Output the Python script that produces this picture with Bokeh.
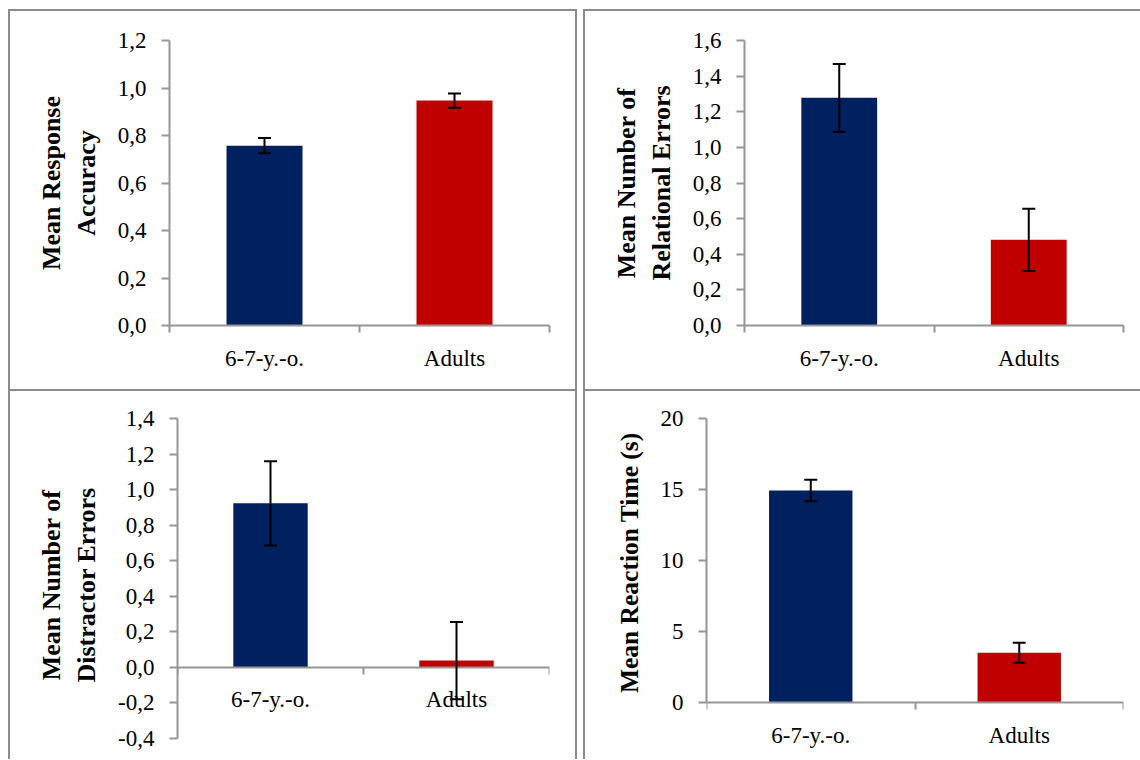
from bokeh.plotting import figure
from bokeh.models import FixedTicker, ColumnDataSource, Whisker, TeeHead, Range1d
from bokeh.core.properties import value
from bokeh.layouts import row, column
from bokeh.embed import file_html
from bokeh.resources import INLINE

# ---------------- data ----------------
groups = ["6-7-y.-o.", "Adults"]
bar_colors = ["#002060", "#C00000"]

acc_mean = [0.757, 0.947]
acc_err = [0.032, 0.030]
acc_ticks = [0.0, 0.2, 0.4, 0.6, 0.8, 1.0, 1.2]
acc_labels = ["0,0", "0,2", "0,4", "0,6", "0,8", "1,0", "1,2"]

rel_mean = [1.278, 0.481]
rel_err = [0.190, 0.175]
rel_ticks = [0.0, 0.2, 0.4, 0.6, 0.8, 1.0, 1.2, 1.4, 1.6]
rel_labels = ["0,0", "0,2", "0,4", "0,6", "0,8", "1,0", "1,2", "1,4", "1,6"]

dis_mean = [0.922, 0.036]
dis_err = [0.237, 0.218]
dis_ticks = [-0.4, -0.2, 0.0, 0.2, 0.4, 0.6, 0.8, 1.0, 1.2, 1.4]
dis_labels = ["-0,4", "-0,2", "0,0", "0,2", "0,4", "0,6", "0,8", "1,0", "1,2", "1,4"]

rt_mean = [14.93, 3.52]
rt_err = [0.76, 0.70]
rt_ticks = [0, 5, 10, 15, 20]
rt_labels = ["0", "5", "10", "15", "20"]

FONT = "Liberation Serif"
GREY = "#969696"
BORDER = "#8c8c8c"
NBSP = "\u00a0"


def panel(title, means, errs, yticks, ylabels, width, height, mins, sides,
          title_size="26px", zero_axis=False, y_start=None):
    left, right, top, bottom = mins
    start = yticks[0] if y_start is None else y_start
    p = figure(width=width, height=height, output_backend="svg", toolbar_location=None,
               x_range=Range1d(0, len(groups)), y_range=Range1d(start, yticks[-1]),
               min_border_left=left, min_border_right=right,
               min_border_top=top, min_border_bottom=bottom)
    p.outline_line_color = None
    p.grid.visible = False
    p.border_fill_alpha = 0
    p.background_fill_alpha = 0

    centers = [i + 0.5 for i in range(len(groups))]
    bounds = list(range(len(groups) + 1))
    src = ColumnDataSource(dict(
        x=centers, top=means, color=bar_colors, base=[0] * len(groups), label=groups,
        upper=[m + e for m, e in zip(means, errs)],
        lower=[m - e for m, e in zip(means, errs)],
    ))
    p.vbar(x="x", top="top", bottom=0, width=0.4, fill_color="color", line_color=None, source=src)
    w = Whisker(source=src, base="x", upper="upper", lower="lower", level="overlay",
                line_color="black", line_width=2,
                upper_head=TeeHead(size=13, line_color="black", line_width=2),
                lower_head=TeeHead(size=13, line_color="black", line_width=2))
    p.add_layout(w)

    # x axis (Excel style: ticks at category boundaries)
    xa = p.xaxis[0]
    xa.major_tick_out = 0
    xa.major_tick_in = 0
    xa.minor_tick_out = 7
    xa.minor_tick_in = 0
    xa.minor_tick_line_color = GREY
    xa.minor_tick_line_width = 2
    xa.axis_line_color = GREY
    xa.axis_line_width = 2
    xa.major_label_text_font = FONT
    xa.major_label_text_font_size = "23px"
    xa.major_label_text_color = "black"
    if zero_axis:
        # axis crossing at y = 0; category names drawn as text just below it
        xa.fixed_location = 0
        xa.ticker = FixedTicker(ticks=[], minor_ticks=bounds)
        xa.major_label_standoff = 0
        p.text(x="x", y="base", text="label", source=src, text_font=value(FONT),
               text_font_size="23px", text_color="black", text_align="center",
               text_baseline="top", y_offset=20)
    else:
        xa.ticker = FixedTicker(ticks=centers, minor_ticks=bounds)
        xa.major_label_overrides = {c: g for c, g in zip(centers, groups)}
        xa.major_label_standoff = 13

    ya = p.yaxis[0]
    ya.ticker = FixedTicker(ticks=yticks, minor_ticks=[])
    ya.bounds = (yticks[0], yticks[-1])
    ya.major_label_overrides = {t: l for t, l in zip(yticks, ylabels)}
    ya.major_tick_out = 8
    ya.major_tick_in = 0
    ya.major_tick_line_color = GREY
    ya.major_tick_line_width = 2
    ya.axis_line_color = GREY
    ya.axis_line_width = 2
    ya.major_label_text_font = FONT
    ya.major_label_text_font_size = "23px"
    ya.major_label_text_color = "black"
    ya.major_label_standoff = 15
    ya.axis_label = title
    ya.axis_label_text_font = FONT
    ya.axis_label_text_font_style = "bold"
    ya.axis_label_text_font_size = title_size
    ya.axis_label_text_color = "black"
    ya.axis_label_standoff = 14

    shadows = []
    if "l" in sides:
        shadows.append("inset 2px 0 0 0 " + BORDER)
    if "t" in sides:
        shadows.append("inset 0 2px 0 0 " + BORDER)
    if "r" in sides:
        shadows.append("inset -2px 0 0 0 " + BORDER)
    if "b" in sides:
        shadows.append("inset 0 -2px 0 0 " + BORDER)
    p.styles = {"box-shadow": ", ".join(shadows), "background-color": "white"}
    return p


tl = panel("Mean Response\nAccuracy", acc_mean, acc_err, acc_ticks, acc_labels,
           569, 380, (161, 28, 31, 64), "ltr")
tr = panel("Mean Number of\nRelational Errors", rel_mean, rel_err, rel_ticks, rel_labels,
           557, 380, (161, 17, 31, 64), "lt")
bl = panel("Mean Number of\nDistractor Errors", dis_mean, dis_err, dis_ticks, dis_labels,
           569, 370, (169, 28, 29, 8), "ltr", zero_axis=True, y_start=-0.476)
br = panel(NBSP * 7 + "Mean Reaction Time (s)", rt_mean, rt_err, rt_ticks, rt_labels,
           557, 370, (123, 17, 29, 8), "lt", title_size="25.5px",
           zero_axis=True, y_start=-3.43)

layout = column(row(tl, tr, spacing=6), row(bl, br, spacing=6), spacing=0,
                margin=(9, 0, 0, 8))

open("out.html", "w").write(file_html(layout, INLINE))
